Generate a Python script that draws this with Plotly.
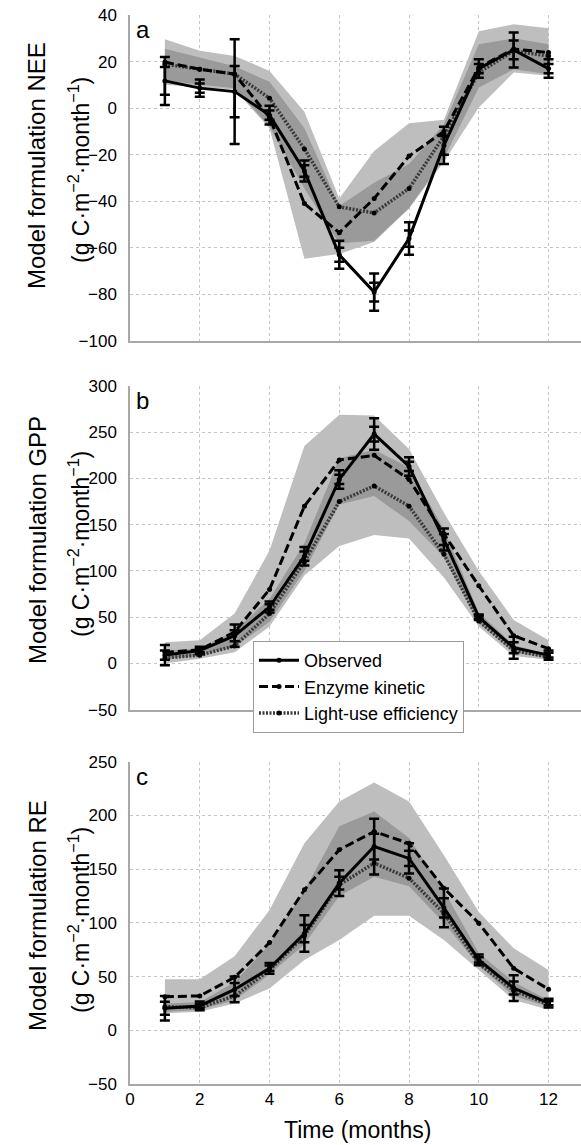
import plotly.graph_objects as go

months = [1, 2, 3, 4, 5, 6, 7, 8, 9, 10, 11, 12]
x_ticks = [0, 2, 4, 6, 8, 10, 12]
series_names = ["Observed", "Enzyme kinetic", "Light-use efficiency"]
panel_letters = ["a", "b", "c"]
y_titles = ["Model formulation NEE", "Model formulation GPP", "Model formulation RE"]
unit_title = "(g C·m<sup>−2</sup>·month<sup>−1</sup>)"
x_title = "Time (months)"

# Panel a: NEE
nee_obs = [11.7, 8.6, 7.1, -3, -27, -63, -79, -56, -16, 17, 25, 17]
nee_obs_err = [10.3, 3.7, 22.5, 4, 4.5, 6, 8, 7, 8, 4, 7.5, 4]
nee_obs_err_in = [6, 2, 11, 2, 2.5, 3, 4, 3.5, 4, 2, 4, 2]
nee_ek = [19.8, 16.7, 14.6, -4, -41, -53.5, -38.8, -20.6, -10, 17.4, 25.4, 23.9]
nee_lue = [18.9, 16.7, 14.6, 4.3, -17.5, -42.4, -45, -34.5, -12, 15.3, 24.6, 22.4]
nee_outer_hi = [29.6, 24.6, 22.4, 16, -1.5, -38.8, -18.4, -6.5, -5, 33, 36, 34.3]
nee_outer_lo = [10, 9, 8, -8.6, -64.7, -62.6, -57.5, -43, -23, 0.3, 15.3, 13.9]
nee_inner_hi = [25.5, 21.7, 18, 11.3, -8.6, -42, -32, -24, -7, 27.4, 30, 27.4]
nee_inner_lo = [12, 10, 8.5, -8, -34.5, -58, -57, -43, -21.6, 8.9, 16.7, 14.6]

# Panel b: GPP
gpp_obs = [9, 14, 30, 61, 116, 199, 248, 213, 134, 50, 17, 9]
gpp_obs_err = [11, 4, 12, 6, 10, 10, 17, 10, 12, 3, 12, 5]
gpp_obs_err_in = [5, 2, 6, 3, 5, 5, 8, 5, 6, 1.5, 6, 2.5]
gpp_ek = [12, 14.7, 34, 80, 170, 220, 225, 199, 140, 84, 30, 16]
gpp_lue = [6, 9, 19, 54, 110, 175, 192, 170, 118, 46, 14, 7]
gpp_outer_hi = [23, 25, 54, 122, 235, 269, 268, 232, 163, 100, 47, 25]
gpp_outer_lo = [0, 5, 12, 40, 95, 127, 139, 135, 93, 40, 8, 4]
gpp_inner_hi = [14, 16, 35, 70, 130, 222, 231, 212, 145, 55, 20, 10]
gpp_inner_lo = [5, 8, 18, 45, 100, 172, 181, 154, 115, 44, 12, 6]

# Panel c: RE
re_obs = [20.5, 22.7, 38, 57.7, 90, 137, 171, 160, 114, 65.5, 39.3, 25.3]
re_obs_err = [11.5, 4, 12, 5, 17, 12, 26, 14, 18, 5, 12, 4]
re_obs_err_in = [6, 2, 6, 2.5, 8, 6, 12, 7, 9, 2.5, 6, 2]
re_ek = [31.3, 32, 49.3, 81.6, 130.7, 168, 185, 174, 132.3, 99.7, 57.7, 38.2]
re_lue = [22, 21, 32, 56, 88, 135.4, 155.6, 141.6, 109, 62, 37, 24]
re_outer_hi = [47.5, 47.5, 69, 112, 174, 213, 230.6, 213, 163, 110, 76.4, 56.2]
re_outer_lo = [15.8, 17.3, 25, 39, 65.5, 84, 106.5, 106.5, 84, 56, 28.3, 19]
re_inner_hi = [25, 26, 45, 80, 130, 190, 203.6, 179, 130, 72, 45, 28]
re_inner_lo = [17, 19, 28, 52, 80, 125, 143, 134, 100, 60, 32, 22]

y_ranges = [[-100, 40], [-50, 300], [-50, 250]]
y_dticks = [20, 50, 50]

panels = [
    dict(obs=nee_obs, err=nee_obs_err, err_in=nee_obs_err_in, ek=nee_ek, lue=nee_lue,
         ohi=nee_outer_hi, olo=nee_outer_lo, ihi=nee_inner_hi, ilo=nee_inner_lo),
    dict(obs=gpp_obs, err=gpp_obs_err, err_in=gpp_obs_err_in, ek=gpp_ek, lue=gpp_lue,
         ohi=gpp_outer_hi, olo=gpp_outer_lo, ihi=gpp_inner_hi, ilo=gpp_inner_lo),
    dict(obs=re_obs, err=re_obs_err, err_in=re_obs_err_in, ek=re_ek, lue=re_lue,
         ohi=re_outer_hi, olo=re_outer_lo, ihi=re_inner_hi, ilo=re_inner_lo),
]

W, H = 581, 1145
ML, MR, MT, MB = 130, 0, 15, 61
plot_h = H - MT - MB
plot_w = W - ML - MR


def fy(py):
    return (H - MB - py) / plot_h


def fx(px):
    return (px - ML) / plot_w


domains = [[fy(341), 1.0], [fy(709.7), fy(386)], [0.0, fy(761.7)]]

LIGHT = "#bebebe"
DARK = "#9a9a9a"
FONT = "Liberation Sans"

fig = go.Figure()

for i, p in enumerate(panels):
    xa = "x" if i == 0 else f"x{i + 1}"
    ya = "y" if i == 0 else f"y{i + 1}"
    band_x = months + months[::-1]
    fig.add_trace(go.Scatter(x=band_x, y=p["ohi"] + p["olo"][::-1], fill="toself",
                             fillcolor=LIGHT, line=dict(width=0), mode="lines",
                             hoverinfo="skip", showlegend=False, xaxis=xa, yaxis=ya))
    fig.add_trace(go.Scatter(x=band_x, y=p["ihi"] + p["ilo"][::-1], fill="toself",
                             fillcolor=DARK, line=dict(width=0), mode="lines",
                             hoverinfo="skip", showlegend=False, xaxis=xa, yaxis=ya))
    fig.add_trace(go.Scatter(x=months, y=p["lue"], mode="lines+markers", name=series_names[2],
                             line=dict(color="#3a3a3a", width=3.5, dash="2px,1.5px"),
                             marker=dict(size=5, color="black"),
                             showlegend=(i == 1), xaxis=xa, yaxis=ya, legendrank=3))
    fig.add_trace(go.Scatter(x=months, y=p["ek"], mode="lines+markers", name=series_names[1],
                             line=dict(color="black", width=3, dash="9px,4px"),
                             marker=dict(size=5, color="black"),
                             showlegend=(i == 1), xaxis=xa, yaxis=ya, legendrank=2))
    fig.add_trace(go.Scatter(x=months, y=p["obs"], mode="markers",
                             marker=dict(size=1, color="black"),
                             error_y=dict(type="data", array=p["err_in"], color="black",
                                          thickness=2.5, width=5),
                             showlegend=False, hoverinfo="skip", xaxis=xa, yaxis=ya))
    fig.add_trace(go.Scatter(x=months, y=p["obs"], mode="lines+markers", name=series_names[0],
                             line=dict(color="black", width=3),
                             marker=dict(size=5, color="black"),
                             error_y=dict(type="data", array=p["err"], color="black",
                                          thickness=2.5, width=5),
                             showlegend=(i == 1), xaxis=xa, yaxis=ya, legendrank=1))

axis_common = dict(showgrid=True, gridcolor="#c4c4c4", griddash="dot", gridwidth=1,
                   zeroline=False, showline=True, linecolor="#a8a8a8", linewidth=1.5,
                   ticks="", tickfont=dict(family=FONT, size=17, color="black"))

layout = dict(width=W, height=H, margin=dict(l=ML, r=MR, t=MT, b=MB),
              paper_bgcolor="white", plot_bgcolor="white",
              font=dict(family=FONT, color="black"),
              legend=dict(x=fx(253), y=fy(641), xanchor="left", yanchor="top",
                          bgcolor="white", bordercolor="#9a9a9a", borderwidth=1,
                          font=dict(family=FONT, size=18), tracegroupgap=0,
                          traceorder="normal", itemwidth=40),
              showlegend=True)

for i in range(3):
    xk = "xaxis" if i == 0 else f"xaxis{i + 1}"
    yk = "yaxis" if i == 0 else f"yaxis{i + 1}"
    ya = "y" if i == 0 else f"y{i + 1}"
    xa = "x" if i == 0 else f"x{i + 1}"
    layout[xk] = dict(axis_common, range=[0, (W - ML) / 34.88], tickvals=x_ticks,
                      showticklabels=(i == 2), anchor=ya, domain=[0, 1],
                      ticklabelstandoff=-1)
    layout[yk] = dict(axis_common, range=y_ranges[i], dtick=y_dticks[i], tick0=0,
                      anchor=xa, domain=domains[i], ticklabelstandoff=8)

fig.update_layout(**layout)

title_centers = [166, 540, 916]
annotations = []
for i in range(3):
    annotations.append(dict(text=y_titles[i], x=fx(37), y=fy(title_centers[i]), xref="paper",
                            yref="paper", textangle=-90, showarrow=False,
                            font=dict(family=FONT, size=24), xanchor="center", yanchor="middle"))
    annotations.append(dict(text=unit_title, x=fx(79), y=fy(title_centers[i] + 4), xref="paper",
                            yref="paper", textangle=-90, showarrow=False,
                            font=dict(family=FONT, size=23), xanchor="center", yanchor="middle"))
    top_py = [15, 386, 761.7][i]
    annotations.append(dict(text=panel_letters[i], x=fx(134), y=fy(top_py - 1), xref="paper",
                            yref="paper", showarrow=False, xanchor="left", yanchor="top",
                            font=dict(family=FONT, size=24)))
annotations.append(dict(text=x_title, x=fx(357), y=fy(1130), xref="paper", yref="paper",
                        showarrow=False, xanchor="center", yanchor="middle",
                        font=dict(family=FONT, size=23)))
fig.update_layout(annotations=annotations)

fig.write_html("out.html", config={"displayModeBar": False},
               post_script="document.body.style.margin='0px';"
                           "document.body.style.overflow='hidden';")
